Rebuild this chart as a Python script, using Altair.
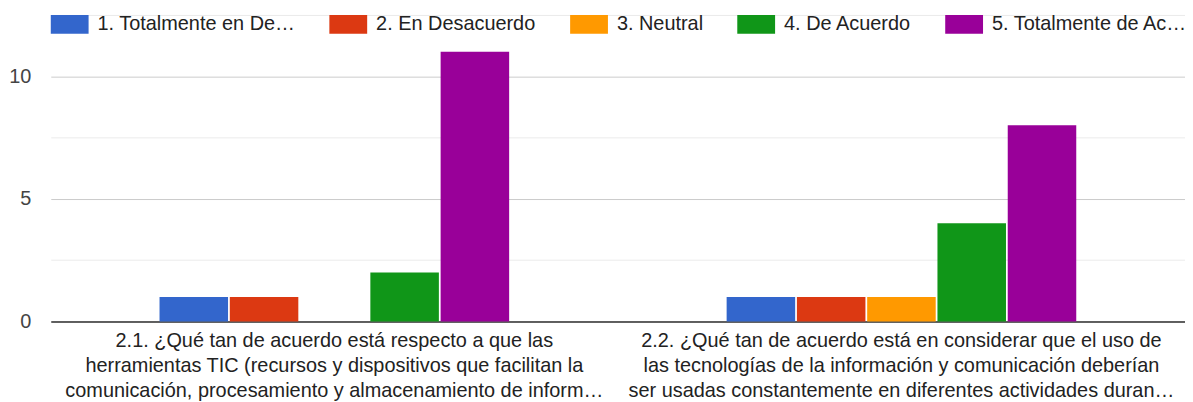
import altair as alt
import pandas as pd

questions = [
    "2.1. ¿Qué tan de acuerdo está respecto a que las\nherramientas TIC (recursos y dispositivos que facilitan la\ncomunicación, procesamiento y almacenamiento de inform…",
    "2.2. ¿Qué tan de acuerdo está en considerar que el uso de\nlas tecnologías de la información y comunicación deberían\nser usadas constantemente en diferentes actividades duran…",
]
series = [
    "1. Totalmente en Desacuerdo",
    "2. En Desacuerdo",
    "3. Neutral",
    "4. De Acuerdo",
    "5. Totalmente de Acuerdo",
]
colors = ["#3366cc", "#dc3912", "#ff9900", "#109618", "#990099"]
q1_counts = [1, 1, 0, 2, 11]
q2_counts = [1, 1, 1, 4, 8]
y_ticks = [0, 2.5, 5, 7.5, 10, 12.5]

rows = []
for q, counts in zip(questions, [q1_counts, q2_counts]):
    for s, c in zip(series, counts):
        rows.append({"question": q, "serie": s, "count": c})
df = pd.DataFrame(rows)

FONT = "Liberation Sans"

chart = (
    alt.Chart(df)
    .mark_bar()
    .encode(
        x=alt.X(
            "question:N",
            sort=questions,
            scale=alt.Scale(paddingInner=0.3835, paddingOuter=0.19175),
            axis=alt.Axis(
                title=None,
                labelAngle=0,
                labelExpr="split(datum.label, '\\n')",
                labelFontSize=20,
                labelFont=FONT,
                labelColor="#222222",
                labelLimit=1000,
                labelLineHeight=25,
                labelBaseline="top",
                ticks=False,
                domainColor="#333333",
                domainWidth=1.5,
                labelPadding=9,
            ),
        ),
        xOffset=alt.XOffset("serie:N", sort=series, scale=alt.Scale(paddingInner=0.025)),
        y=alt.Y(
            "count:Q",
            scale=alt.Scale(domain=[0, 12.5], nice=False),
            axis=alt.Axis(
                title=None,
                values=y_ticks,
                labelExpr="(datum.value % 5 == 0 && datum.value <= 10) ? datum.label : ''",
                grid=True,
                gridColor={"condition": {"test": "datum.value % 5 == 0", "value": "#cccccc"}, "value": "#ebebeb"},
                domain=False,
                ticks=False,
                labelFontSize=20,
                labelFont=FONT,
                labelColor="#444444",
                labelPadding=20,
            ),
        ),
        color=alt.Color(
            "serie:N",
            sort=series,
            scale=alt.Scale(domain=series, range=colors),
            legend=alt.Legend(
                orient="none",
                legendX=0,
                legendY=-9.5,
                direction="horizontal",
                title=None,
                symbolType="M-1,-0.5H1V0.5H-1Z",
                symbolSize=1444,
                symbolStrokeWidth=0,
                symbolOpacity=1,
                labelFontSize=20,
                labelFont=FONT,
                labelColor="#222222",
                labelLimit=200,
                labelOffset=9,
                columnPadding=34,
            ),
        ),
    )
    .properties(
        width=1140,
        height=308,
        autosize="none",
        padding={"left": 43, "top": 6, "right": 0, "bottom": 80},
    )
    .configure_view(stroke=None)
)

chart.save("out.html", embed_options={"renderer": "svg", "actions": False})
